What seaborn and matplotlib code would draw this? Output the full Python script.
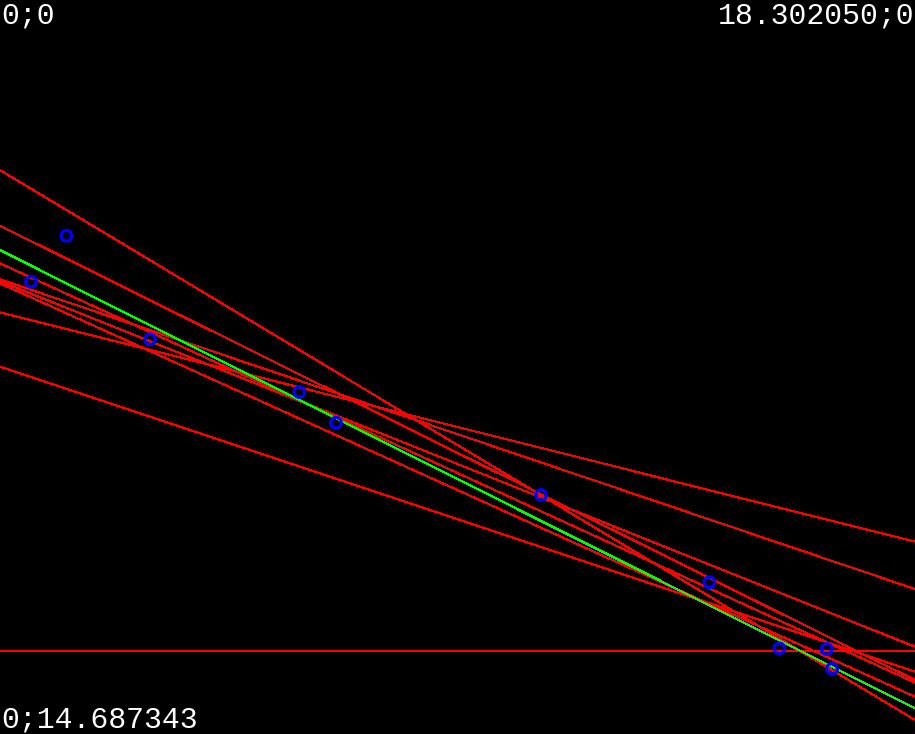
import matplotlib
matplotlib.use("Agg")
import matplotlib.pyplot as plt
import seaborn as sns
import numpy as np

# ---- data ----
x_max = 18.302050
y_max = 14.687343

point_x = [1.326, 0.620, 3.000, 5.987, 6.721, 10.821, 14.188, 15.588, 16.536, 16.642]
point_y = [4.716, 5.637, 6.789, 7.844, 8.458, 9.905, 11.652, 12.973, 12.987, 13.381]

# fitted (red) lines: y = intercept + slope * x
fit_intercepts = [3.402, 4.516, 5.269, 5.589, 5.629, 5.669, 6.249, 7.338, 13.027]
fit_slopes = [0.6013, 0.4967, 0.4585, 0.3386, 0.3995, 0.4520, 0.2508, 0.3335, 0.0]

# reference (green) line
true_intercept = 5.003
true_slope = 0.5010

corner_labels = ["0;0", "18.302050;0", "0;14.687343"]

# ---- figure ----
sns.set_style("dark")
plt.rcParams['font.family'] = ['Liberation Mono', 'DejaVu Sans']
fig = plt.figure(figsize=(9.15, 7.34), dpi=100)
fig.patch.set_facecolor("black")
ax = fig.add_axes([0, 0, 1, 1])
ax.set_facecolor("black")

xs = np.array([0.0, x_max])
px = 0.72  # one pixel in points at 100 dpi

for a, b in zip(fit_intercepts, fit_slopes):
    ys = a + b * xs
    lw = 1.6 * px if b == 0 else 1.0 * px
    sns.lineplot(x=xs, y=ys, color=(1, 0, 0), lw=lw, ax=ax)

sns.lineplot(x=xs, y=true_intercept + true_slope * xs, color=(0, 1, 0),
             lw=1.0 * px, ax=ax)

for ln in ax.lines:
    ln.set_antialiased(False)

sns.scatterplot(x=point_x, y=point_y, s=58, facecolor="none",
                edgecolor=(0, 0, 1), linewidth=3.2 * px, ax=ax, zorder=5)

ax.set_xlim(0, x_max)
ax.set_ylim(y_max, 0)
ax.set_axis_off()

fs = 21.5
fig.text(1 / 915, 1 - 23 / 734, corner_labels[0], color="white", fontsize=fs,
         ha="left", va="baseline")
fig.text(914 / 915, 1 - 23 / 734, corner_labels[1], color="white", fontsize=fs,
         ha="right", va="baseline")
fig.text(1 / 915, 1 - 727 / 734, corner_labels[2], color="white", fontsize=fs,
         ha="left", va="baseline")

fig.savefig("out.png", dpi=100, facecolor="black")
